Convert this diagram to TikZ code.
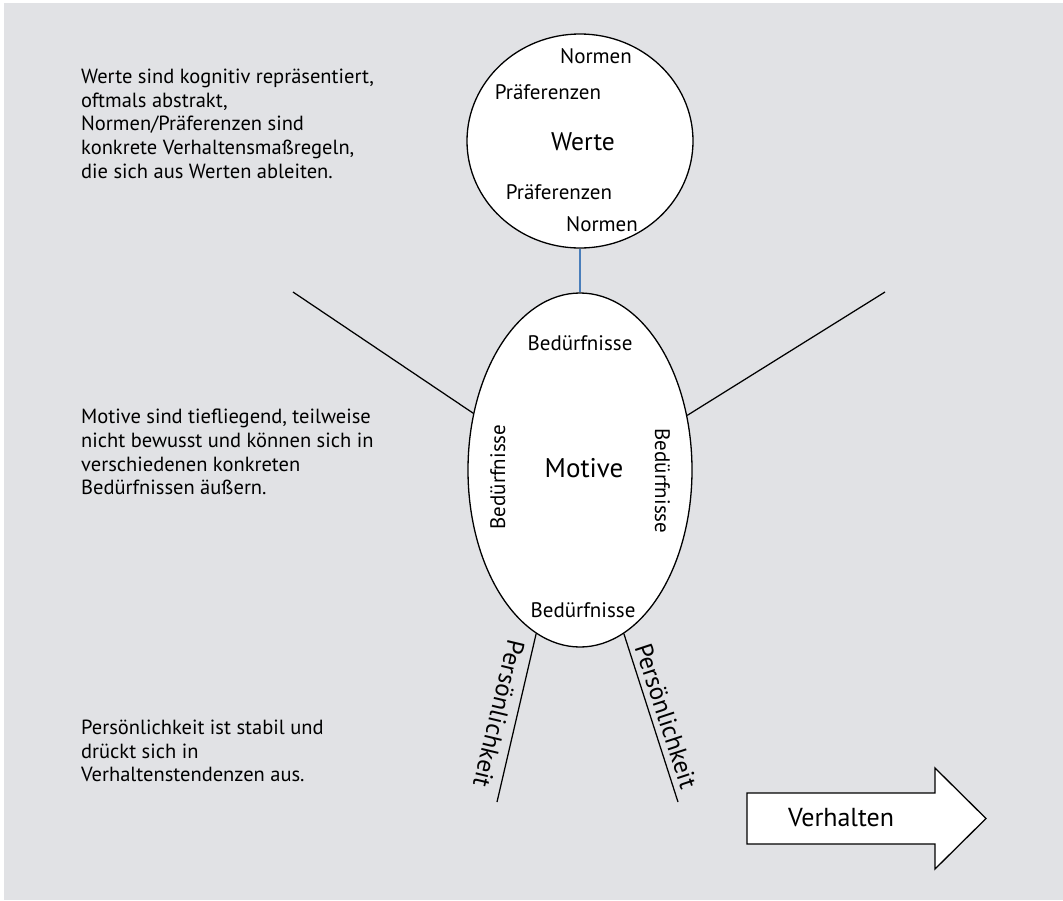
\documentclass[tikz,border=0pt]{standalone}
\usepackage{fontspec}
\setmainfont{PT Sans}
\usetikzlibrary{shapes.geometric}
\definecolor{bg}{RGB}{225,226,229}
\definecolor{stem}{RGB}{74,126,187}
\begin{document}
\begin{tikzpicture}[x=1pt,y=-1pt,
  note/.style={anchor=north west, align=left, inner sep=0, font=\fontsize{20.5}{23.6}\selectfont},
  lab/.style={inner sep=0, anchor=base, font=\fontsize{21}{24}\selectfont},
  title/.style={inner sep=0, anchor=base, font=\fontsize{25.5}{28}\selectfont},
  pers/.style={inner sep=0, anchor=center, font=\fontsize{25}{28}\selectfont},
  outline/.style={draw=black, fill=white, line width=1.3pt, inner sep=0},
  limb/.style={draw=black, line width=1.25pt},
]
\useasboundingbox (0,0) rectangle (1063,900);
\fill[bg] (4,3) rectangle (1063,900);

% text blocks
\node[note] (t1) at (81,69) {Werte sind kognitiv repräsentiert,\\oftmals abstrakt,\\Normen/Präferenzen sind\\konkrete Verhaltensmaßregeln,\\die sich aus Werten ableiten.};
\node[note] (t2) at (81,409) {Motive sind tiefliegend, teilweise\\nicht bewusst und können sich in\\verschiedenen konkreten\\Bedürfnissen äußern.};
\node[note] (t3) at (81,720) {Persönlichkeit ist stabil und\\drückt sich in\\Verhaltenstendenzen aus.};

% Werte circle
\node[outline, ellipse, minimum width=226, minimum height=214] (wer) at (580,141) {};
\node[lab] (n1) at (596,63) {Normen};
\node[lab] (p1) at (548,99) {Präferenzen};
\node[title] (w) at (583,150) {Werte};
\node[lab] (p2) at (559,199) {Präferenzen};
\node[lab] (n2) at (602,231) {Normen};

% Motive ellipse
\node[outline, ellipse, minimum width=224, minimum height=354] (mot) at (580,470) {};
\draw[stem, line width=1.2pt] (wer.south) -- (mot.north);
\node[title, font=\fontsize{27}{30}\selectfont] (m) at (584,477) {Motive};
\node[lab] (b1) at (580,350) {Bedürfnisse};
\node[lab] (b2) at (583,617) {Bedürfnisse};
\node[lab, rotate=90] (b3) at (505,477) {Bedürfnisse};
\node[lab, rotate=-90] (b4) at (655,481) {Bedürfnisse};

% limbs
\coordinate (armL) at (293,292);
\coordinate (armR) at (885,292);
\coordinate (legL) at (497,802);
\coordinate (legR) at (678,802);
\draw[limb] (armL) -- (mot.152);
\draw[limb] (armR) -- (mot.27);
\draw[limb] (mot.255) -- (legL);
\draw[limb] (mot.285) -- (legR);
\node[pers, rotate=-103.5] (pl) at (499,714) {Persönlichkeit};
\node[pers, rotate=-71.8] (pr) at (666,716) {Persönlichkeit};

% Verhalten arrow
\draw[draw=black, fill=white, line width=1.3pt, line join=miter]
  (747,793) -- (935,793) -- (935,768) -- (986,818.5) -- (935,869) -- (935,844) -- (747,844) -- cycle;
\node[title, font=\fontsize{26}{28}\selectfont] (v) at (841,826) {Verhalten};
\end{tikzpicture}
\end{document}
